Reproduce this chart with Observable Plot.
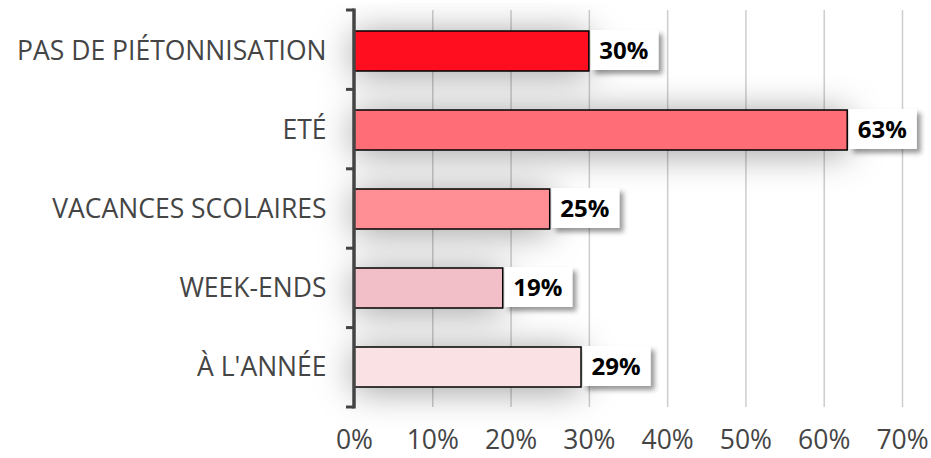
<!DOCTYPE html>
<html>
<head>
<meta charset="utf-8">
<script src="https://cdn.jsdelivr.net/npm/d3@7"></script>
<script src="https://cdn.jsdelivr.net/npm/@observablehq/plot@0.6"></script>
<style>
  html, body { margin: 0; padding: 0; background: #fff; }
  #chart { width: 931px; height: 458px; }
</style>
</head>
<body>
<div id="chart"></div>
<script>
const categories = ["PAS DE PIÉTONNISATION", "ETÉ", "VACANCES SCOLAIRES", "WEEK-ENDS", "À L'ANNÉE"];
const values = [30, 63, 25, 19, 29];
const colors = ["#fe0e1e", "#ff6d77", "#ff8e95", "#f2bec8", "#fae1e3"];
const xTicks = [0, 10, 20, 30, 40, 50, 60, 70];

const data = categories.map((c, i) => ({category: c, value: values[i], color: colors[i]}));

const axisMark = (index, scales, channels, dims) => {
  const g = d3.create("svg:g");
  const x0 = scales.x(0);
  const top = dims.marginTop, bottom = dims.height - dims.marginBottom;
  const step = (bottom - top) / categories.length;
  g.append("line").attr("x1", x0).attr("x2", x0).attr("y1", top - 1.5).attr("y2", bottom + 1.5)
    .attr("stroke", "#444").attr("stroke-width", 3.5);
  for (let i = 0; i <= categories.length; i++) {
    const y = top + i * step;
    g.append("line").attr("x1", x0 - 8).attr("x2", x0).attr("y1", y).attr("y2", y)
      .attr("stroke", "#444").attr("stroke-width", 3);
  }
  return g.node();
};

const chart = Plot.plot({
  width: 931,
  height: 458,
  marginLeft: 354,
  marginRight: 29,
  marginTop: 10,
  marginBottom: 51,
  style: {fontFamily: "'Open Sans'", fontSize: "26.5px", color: "#454545", background: "#fff", overflow: "visible"},
  x: {domain: [0, 70], ticks: xTicks, tickFormat: d => d + "%", tickSize: 0, tickPadding: 23, label: null},
  y: {domain: categories, paddingInner: 0.5, paddingOuter: 0.25, tickSize: 0, tickPadding: 28, label: null},
  marks: [
    Plot.ruleX(xTicks.filter(t => t > 0), {stroke: "#cdcdcd", strokeWidth: 1.5}),
    // blurred shadow layer under the bars
    Plot.barX(data, {y: "category", x: "value", fill: "#000", fillOpacity: 0.4, dy: 3}),
    Plot.barX(data, {y: "category", x: "value", fill: "color", stroke: "#000", strokeWidth: 1.5}),
    axisMark,
    Plot.text(data, {y: "category", x: "value", text: d => d.value + "%", textAnchor: "start", dx: 10,
      fontWeight: "bold", fontSize: 24, fill: "#000", fontFamily: "'Open Sans'"})
  ]
});

document.getElementById("chart").appendChild(chart);

const svg = d3.select(chart);
const defs = svg.insert("defs", ":first-child");
const f1 = defs.append("filter").attr("id", "barBlur")
  .attr("filterUnits", "userSpaceOnUse")
  .attr("x", 0).attr("y", 0).attr("width", 931).attr("height", 458);
f1.append("feGaussianBlur").attr("stdDeviation", 18);
const f2 = defs.append("filter").attr("id", "labelShadow")
  .attr("x", "-30%").attr("y", "-30%").attr("width", "160%").attr("height", "160%");
f2.append("feDropShadow").attr("dx", 4).attr("dy", 4).attr("stdDeviation", 2.5)
  .attr("flood-color", "#000").attr("flood-opacity", 0.4);

const barGs = svg.selectAll('g[aria-label="bar"]').nodes();
d3.select(barGs[0]).attr("filter", "url(#barBlur)");
const barG = d3.select(barGs[1]);

// label boxes behind each value label, sized from the rendered bars and texts
const svgRect = chart.getBoundingClientRect();
const bars = barG.selectAll("rect").nodes();
const texts = svg.selectAll('g[aria-label="text"] text').nodes();
const boxG = svg.insert("g", 'g[aria-label="text"]').attr("filter", "url(#labelShadow)");
bars.forEach((b, i) => {
  const br = b.getBoundingClientRect();
  const tr = texts[i].getBoundingClientRect();
  const x = br.right - svgRect.left + 2;
  const w = (tr.right - svgRect.left) + 10 - x;
  boxG.append("rect")
    .attr("x", x).attr("y", br.top - svgRect.top - 1)
    .attr("width", w).attr("height", br.height)
    .attr("fill", "#fff");
});
</script>
</body>
</html>
